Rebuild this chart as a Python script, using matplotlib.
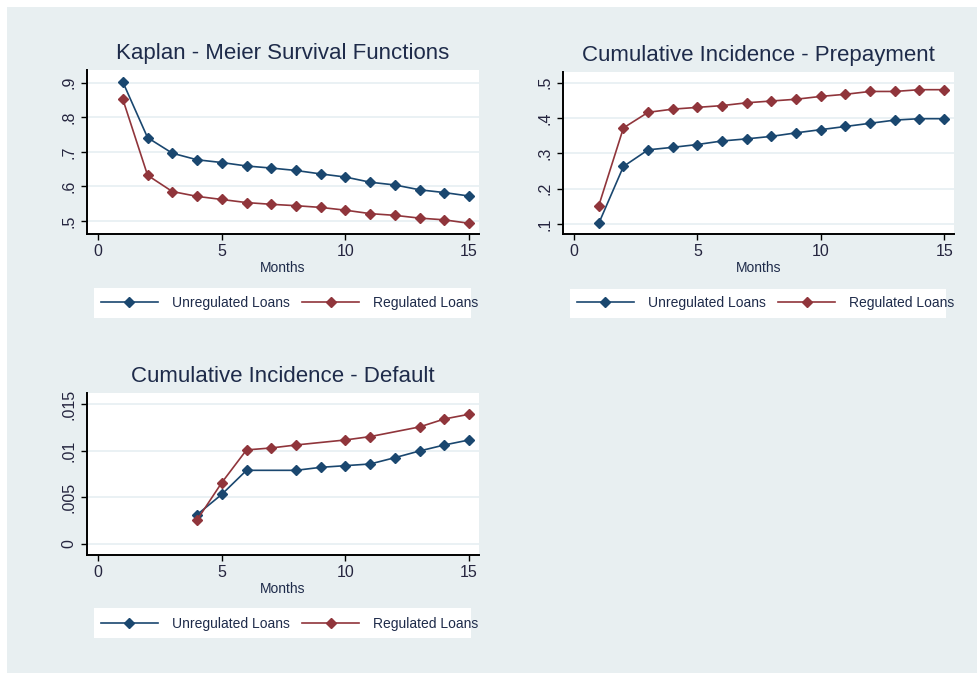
import matplotlib.pyplot as plt
from matplotlib.patches import Rectangle

plt.rcParams['font.family'] = ['Liberation Sans', 'DejaVu Sans']

# data
months = list(range(1, 16))
km_unreg = [0.902, 0.741, 0.696, 0.677, 0.669, 0.659, 0.653, 0.646, 0.636,
            0.627, 0.612, 0.604, 0.590, 0.582, 0.572]
km_reg = [0.852, 0.632, 0.585, 0.571, 0.562, 0.553, 0.548, 0.544, 0.539,
          0.531, 0.521, 0.516, 0.508, 0.503, 0.493]
prep_unreg = [0.102, 0.263, 0.310, 0.317, 0.325, 0.335, 0.341, 0.348, 0.358,
              0.367, 0.376, 0.385, 0.394, 0.398, 0.398]
prep_reg = [0.152, 0.372, 0.416, 0.425, 0.430, 0.435, 0.443, 0.448, 0.453,
            0.461, 0.467, 0.475, 0.475, 0.480, 0.480]
def_months_unreg = [4, 5, 6, 8, 9, 10, 11, 12, 13, 14, 15]
def_unreg = [0.00315, 0.00533, 0.00791, 0.00791, 0.00823, 0.00841, 0.00859,
             0.00927, 0.00999, 0.01063, 0.01117]
def_months_reg = [4, 5, 6, 7, 8, 10, 11, 13, 14, 15]
def_reg = [0.00258, 0.00659, 0.0101, 0.01031, 0.01063, 0.01117, 0.01153,
           0.01257, 0.01342, 0.01393]

x_ticks = [0, 5, 10, 15]
km_yticks = [0.5, 0.6, 0.7, 0.8, 0.9]
km_ylabels = ['.5', '.6', '.7', '.8', '.9']
prep_yticks = [0.1, 0.2, 0.3, 0.4, 0.5]
prep_ylabels = ['.1', '.2', '.3', '.4', '.5']
def_yticks = [0, 0.005, 0.01, 0.015]
def_ylabels = ['0', '.005', '.01', '.015']
series_names = ['Unregulated Loans', 'Regulated Loans']

BG = '#e8eff1'
BLUE = '#1a476f'
RED = '#90353b'
TXT = '#1e2b4a'

W, H = 977, 673
fig = plt.figure(figsize=(W / 100, H / 100), dpi=100)
fig.patch.set_facecolor('white')
fig.add_artist(Rectangle((7 / W, 0), 1 - 7 / W, 1 - 7 / H, transform=fig.transFigure,
                         facecolor=BG, edgecolor='none', zorder=-10))


def px_box(x0, y0, x1, y1):
    return [x0 / W, 1 - y1 / H, (x1 - x0) / W, (y1 - y0) / H]


def panel(rect, title, xs_u, ys_u, xs_r, ys_r, yticks, ylabels, ylim, leg_box, leg_anchor):
    ax = fig.add_axes(px_box(*rect))
    ax.set_facecolor('white')
    for y in yticks:
        ax.axhline(y, color='#e6eff2', lw=1.2, zorder=0)
    ax.plot(xs_u, ys_u, color=BLUE, marker='D', ms=5.2, lw=1.2, label=series_names[0])
    ax.plot(xs_r, ys_r, color=RED, marker='D', ms=5.2, lw=1.2, label=series_names[1])
    ax.set_xlim(-0.45, 15.4)
    ax.set_ylim(*ylim)
    ax.set_xticks(x_ticks)
    ax.set_yticks(yticks)
    ax.set_yticklabels(ylabels, rotation=90, va='center')
    ax.tick_params(direction='out', length=4, width=1, colors='black',
                   labelcolor='#25253f', labelsize=11.5)
    for s in ['top', 'right']:
        ax.spines[s].set_visible(False)
    for s in ['left', 'bottom']:
        ax.spines[s].set_linewidth(1.4)
    ax.set_xlabel('Months', fontsize=10, color=TXT, labelpad=1)
    ax.set_title(title, fontsize=16, color=TXT, pad=8)
    fig.add_artist(Rectangle((leg_box[0] / W, 1 - leg_box[3] / H),
                             (leg_box[2] - leg_box[0]) / W, (leg_box[3] - leg_box[1]) / H,
                             transform=fig.transFigure, facecolor='white',
                             edgecolor='none', zorder=-5))
    ax.legend(loc='center left', bbox_to_anchor=(leg_anchor[0] / W, 1 - leg_anchor[1] / H),
              bbox_transform=fig.transFigure, ncol=2, frameon=False, fontsize=10,
              borderpad=0, borderaxespad=0, handlelength=4.1, handletextpad=1.0,
              columnspacing=0.9, labelcolor=TXT)
    return ax


panel((87, 70, 479, 234), 'Kaplan - Meier Survival Functions',
      months, km_unreg, months, km_reg, km_yticks, km_ylabels, (0.462, 0.937),
      (94, 288, 471, 318), (101, 303))
panel((563, 72, 954, 234), 'Cumulative Incidence - Prepayment',
      months, prep_unreg, months, prep_reg, prep_yticks, prep_ylabels, (0.072, 0.53),
      (570, 289, 946, 318), (577, 303))
panel((87, 393, 479, 555), 'Cumulative Incidence - Default',
      def_months_unreg, def_unreg, def_months_reg, def_reg, def_yticks, def_ylabels,
      (-0.00118, 0.01621), (94, 608, 471, 638), (101, 624))

fig.savefig('out.png', dpi=100)
